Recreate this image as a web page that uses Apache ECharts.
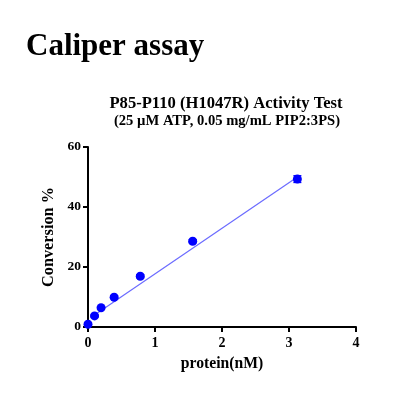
<!DOCTYPE html>
<html><head><meta charset="utf-8">
<script src="https://cdn.jsdelivr.net/npm/echarts@6/dist/echarts.min.js"></script>
<style>html,body{margin:0;padding:0;background:#fff}#c{width:416px;height:416px}</style>
</head><body><div id="c"></div>
<script>
var protein = [0, 0.0977, 0.195, 0.39, 0.78, 1.5625, 3.125];
var conversion = [0.9, 3.7, 6.4, 9.9, 16.9, 28.6, 49.3];
var sem = [0.3, 0.3, 0.3, 0.4, 0.5, 0.5, 1.1];
var fitX = [0.0977, 3.125];
var fitY = [4.0, 50.0];
var xTicks = [0, 1, 2, 3, 4];
var yTicks = [0, 20, 40, 60];

var serif = 'Liberation Serif';
var chart = echarts.init(document.getElementById('c'));
var pts = protein.map(function(x, i){ return [x, conversion[i]]; });
var errs = protein.map(function(x, i){ return [x, conversion[i] - sem[i], conversion[i] + sem[i]]; });
var fit = fitX.map(function(x, i){ return [x, fitY[i]]; });

chart.setOption({
  animation: false,
  title: [
    {text: 'Caliper assay', left: 21, top: 26, textStyle: {fontFamily: serif, fontWeight: 'bold', fontSize: 31, color: '#000'}},
    {text: 'P85-P110 (H1047R) Activity Test', left: 221, textAlign: 'center', top: 90, textStyle: {fontFamily: serif, fontWeight: 'bold', fontSize: 16.6, color: '#000'}},
    {text: '(25 µM ATP, 0.05 mg/mL PIP2:3PS)', left: 222, textAlign: 'center', top: 109, textStyle: {fontFamily: serif, fontWeight: 'bold', fontSize: 14.6, color: '#000'}}
  ],
  grid: {left: 88, top: 147, right: 60, bottom: 89, containLabel: false},
  xAxis: {
    type: 'value', min: xTicks[0], max: xTicks[xTicks.length-1], interval: 1,
    name: 'protein(nM)', nameLocation: 'middle', nameGap: 29,
    nameTextStyle: {fontFamily: serif, fontWeight: 'bold', fontSize: 15.7, color: '#000'},
    axisLine: {lineStyle: {color: '#000', width: 2}},
    axisTick: {show: true, length: 5, lineStyle: {color: '#000', width: 2}},
    axisLabel: {fontFamily: serif, fontWeight: 'bold', fontSize: 14, color: '#000', margin: 9},
    splitLine: {show: false}
  },
  yAxis: {
    type: 'value', min: yTicks[0], max: yTicks[yTicks.length-1], interval: 20,
    name: 'Conversion %', nameLocation: 'middle', nameGap: 27,
    nameTextStyle: {fontFamily: serif, fontWeight: 'bold', fontSize: 16.3, color: '#000'},
    axisLine: {show: true, lineStyle: {color: '#000', width: 2}},
    axisTick: {show: true, length: 5, lineStyle: {color: '#000', width: 2}},
    axisLabel: {fontFamily: serif, fontWeight: 'bold', fontSize: 13.5, color: '#000', margin: 7},
    splitLine: {show: false}
  },
  series: [
    {type: 'line', data: fit, symbol: 'none', lineStyle: {color: '#6b6bff', width: 1.2}, z: 2},
    {type: 'custom', data: errs, z: 3,
     renderItem: function(params, api){
       var x = api.value(0), lo = api.coord([x, api.value(1)]), hi = api.coord([x, api.value(2)]);
       var w = 4;
       var st = {stroke: '#0000ff', lineWidth: 1.5};
       return {type: 'group', children: [
         {type: 'line', shape: {x1: lo[0], y1: lo[1], x2: hi[0], y2: hi[1]}, style: st},
         {type: 'line', shape: {x1: lo[0]-w, y1: lo[1], x2: lo[0]+w, y2: lo[1]}, style: st},
         {type: 'line', shape: {x1: hi[0]-w, y1: hi[1], x2: hi[0]+w, y2: hi[1]}, style: st}
       ]};
     }},
    {type: 'scatter', data: pts, symbol: 'circle', symbolSize: 9, itemStyle: {color: '#0000ff', opacity: 1}, z: 4}
  ]
});
</script></body></html>
